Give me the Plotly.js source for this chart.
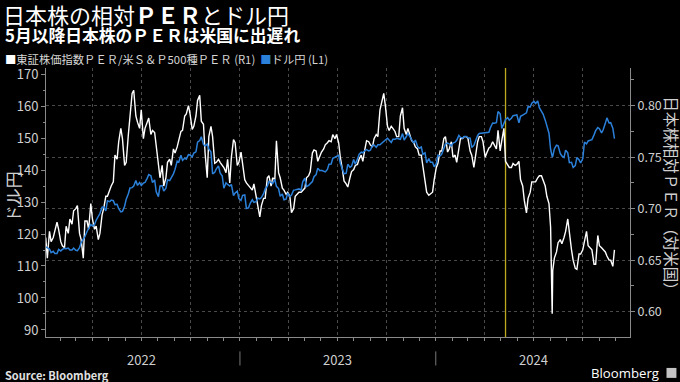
<!DOCTYPE html>
<html>
<head>
<meta charset="utf-8">
<script src="https://cdn.plot.ly/plotly-3.0.1.min.js"></script>
<style>html,body{margin:0;padding:0;background:#000;}#chart{width:680px;height:382px;}</style>
</head>
<body>
<div id="chart"></div>
<script>
const dates = [
'2022-01-04','2022-01-07','2022-01-11','2022-01-14','2022-01-18','2022-01-21','2022-01-25','2022-01-28',
'2022-02-01','2022-02-04','2022-02-08','2022-02-11','2022-02-15','2022-02-18','2022-02-22','2022-02-25',
'2022-03-01','2022-03-04','2022-03-08','2022-03-11','2022-03-15','2022-03-18','2022-03-22','2022-03-25','2022-03-29',
'2022-04-01','2022-04-05','2022-04-08','2022-04-12','2022-04-15','2022-04-19','2022-04-22','2022-04-26','2022-04-29',
'2022-05-03','2022-05-06','2022-05-10','2022-05-13','2022-05-17','2022-05-20','2022-05-24','2022-05-27','2022-05-31',
'2022-06-03','2022-06-07','2022-06-10','2022-06-14','2022-06-17','2022-06-21','2022-06-24','2022-06-28',
'2022-07-01','2022-07-05','2022-07-08','2022-07-12','2022-07-15','2022-07-19','2022-07-22','2022-07-26','2022-07-29',
'2022-08-02','2022-08-05','2022-08-09','2022-08-12','2022-08-16','2022-08-19','2022-08-23','2022-08-26','2022-08-30',
'2022-09-02','2022-09-06','2022-09-09','2022-09-13','2022-09-16','2022-09-20','2022-09-23','2022-09-27','2022-09-30',
'2022-10-04','2022-10-07','2022-10-11','2022-10-14','2022-10-18','2022-10-21','2022-10-25','2022-10-28',
'2022-11-01','2022-11-04','2022-11-08','2022-11-11','2022-11-15','2022-11-18','2022-11-22','2022-11-25','2022-11-29',
'2022-12-02','2022-12-06','2022-12-09','2022-12-13','2022-12-16','2022-12-20','2022-12-23','2022-12-27','2022-12-30',
'2023-01-03','2023-01-06','2023-01-10','2023-01-13','2023-01-17','2023-01-20','2023-01-24','2023-01-27','2023-01-31',
'2023-02-03','2023-02-07','2023-02-10','2023-02-14','2023-02-17','2023-02-21','2023-02-24','2023-02-28',
'2023-03-03','2023-03-07','2023-03-10','2023-03-14','2023-03-17','2023-03-21','2023-03-24','2023-03-28','2023-03-31',
'2023-04-04','2023-04-07','2023-04-11','2023-04-14','2023-04-18','2023-04-21','2023-04-25','2023-04-28',
'2023-05-02','2023-05-05','2023-05-09','2023-05-12','2023-05-16','2023-05-19','2023-05-23','2023-05-26','2023-05-30',
'2023-06-02','2023-06-06','2023-06-09','2023-06-13','2023-06-16','2023-06-20','2023-06-23','2023-06-27','2023-06-30',
'2023-07-04','2023-07-07','2023-07-11','2023-07-14','2023-07-18','2023-07-21','2023-07-25','2023-07-28',
'2023-08-01','2023-08-04','2023-08-08','2023-08-11','2023-08-15','2023-08-18','2023-08-22','2023-08-25','2023-08-29',
'2023-09-01','2023-09-05','2023-09-08','2023-09-12','2023-09-15','2023-09-19','2023-09-22','2023-09-26','2023-09-29',
'2023-10-03','2023-10-06','2023-10-10','2023-10-13','2023-10-17','2023-10-20','2023-10-24','2023-10-27','2023-10-31',
'2023-11-03','2023-11-07','2023-11-10','2023-11-14','2023-11-17','2023-11-21','2023-11-24','2023-11-28',
'2023-12-01','2023-12-05','2023-12-08','2023-12-12','2023-12-15','2023-12-19','2023-12-22','2023-12-26','2023-12-29',
'2024-01-02','2024-01-05','2024-01-09','2024-01-12','2024-01-16','2024-01-19','2024-01-23','2024-01-26','2024-01-30',
'2024-02-02','2024-02-06','2024-02-09','2024-02-13','2024-02-16','2024-02-20','2024-02-23','2024-02-27',
'2024-03-01','2024-03-05','2024-03-08','2024-03-12','2024-03-15','2024-03-19','2024-03-22','2024-03-26','2024-03-29',
'2024-04-02','2024-04-05','2024-04-09','2024-04-12','2024-04-16','2024-04-19','2024-04-23','2024-04-26','2024-04-30',
'2024-05-03','2024-05-07','2024-05-10','2024-05-14','2024-05-17','2024-05-21','2024-05-24','2024-05-28','2024-05-31',
'2024-06-04','2024-06-07','2024-06-11','2024-06-14','2024-06-18','2024-06-21','2024-06-25','2024-06-28',
'2024-07-02','2024-07-05','2024-07-09','2024-07-12','2024-07-16','2024-07-19','2024-07-23','2024-07-26','2024-07-30',
'2024-08-02','2024-08-05','2024-08-06','2024-08-09','2024-08-13','2024-08-16','2024-08-20','2024-08-23','2024-08-27','2024-08-30',
'2024-09-03','2024-09-06','2024-09-10','2024-09-13','2024-09-17','2024-09-20','2024-09-24','2024-09-27',
'2024-10-01','2024-10-04','2024-10-08','2024-10-11','2024-10-15','2024-10-18','2024-10-22','2024-10-25','2024-10-29',
'2024-11-01','2024-11-05','2024-11-08','2024-11-12','2024-11-15','2024-11-19','2024-11-22','2024-11-26','2024-11-29'
];

const perRatio = [
0.672,0.652,0.678,0.668,0.672,0.678,0.687,0.680,
0.668,0.664,0.662,0.683,0.676,0.690,0.685,0.698,
0.700,0.703,0.676,0.670,0.652,0.688,0.688,0.680,0.705,
0.690,0.680,0.683,0.670,0.676,0.694,0.700,0.712,0.712,
0.718,0.722,0.726,0.752,0.748,0.765,0.778,0.768,0.742,
0.745,0.772,0.793,0.812,0.815,0.790,0.784,0.778,
0.796,0.768,0.778,0.784,0.788,0.772,0.776,0.774,0.760,
0.740,0.730,0.742,0.722,0.730,0.745,0.748,0.742,0.758,
0.754,0.760,0.768,0.775,0.776,0.790,0.792,0.800,0.792,
0.777,0.780,0.790,0.805,0.810,0.785,0.782,0.754,
0.730,0.770,0.780,0.770,0.744,0.745,0.748,0.745,0.742,
0.740,0.735,0.748,0.725,0.750,0.767,0.764,0.742,0.745,
0.755,0.745,0.728,0.725,0.722,0.720,0.718,0.724,0.712,
0.700,0.692,0.703,0.710,0.710,0.730,0.732,0.722,
0.730,0.728,0.766,0.735,0.730,0.720,0.718,0.714,0.716,
0.712,0.696,0.700,0.712,0.714,0.716,0.716,0.718,
0.720,0.730,0.732,0.736,0.754,0.757,0.756,0.746,0.752,
0.755,0.758,0.762,0.764,0.766,0.765,0.772,0.768,0.772,
0.764,0.750,0.738,0.727,0.724,0.721,0.730,0.736,
0.738,0.742,0.743,0.748,0.752,0.746,0.758,0.766,0.765,
0.762,0.760,0.768,0.772,0.770,0.796,0.803,0.812,0.800,
0.780,0.776,0.780,0.778,0.775,0.770,0.770,0.790,0.798,
0.778,0.772,0.778,0.772,0.766,0.764,0.760,0.758,
0.752,0.752,0.740,0.728,0.716,0.713,0.714,0.716,0.728,
0.740,0.744,0.756,0.756,0.768,0.770,0.755,0.758,0.765,
0.750,0.752,0.745,0.760,0.768,0.768,0.770,0.770,
0.768,0.756,0.752,0.740,0.752,0.765,0.770,0.770,0.765,
0.750,0.754,0.759,0.760,0.765,0.762,0.758,0.776,0.756,
0.766,0.778,0.746,0.742,0.740,0.740,0.744,0.742,0.743,
0.746,0.728,0.722,0.708,0.696,0.710,0.716,0.726,
0.726,0.726,0.730,0.732,0.732,0.728,0.722,0.712,0.705,
0.682,0.598,0.640,0.652,0.658,0.667,0.670,0.666,0.672,0.678,
0.690,0.674,0.660,0.650,0.642,0.641,0.656,0.656,
0.660,0.668,0.678,0.664,0.662,0.660,0.646,0.646,0.674,
0.664,0.662,0.660,0.658,0.654,0.650,0.650,0.644,0.660
];

const usdJpy = [
116.0,115.6,115.3,114.2,114.6,113.9,113.9,115.2,
114.7,115.2,115.5,115.4,115.6,115.0,115.0,115.6,
114.9,114.8,115.7,117.3,118.3,119.2,120.8,122.0,123.0,
122.5,123.0,124.3,125.4,126.4,128.4,128.5,127.2,130.4,
130.1,130.6,130.4,129.2,129.3,127.9,126.9,127.1,128.7,
130.9,132.6,134.4,134.5,135.0,136.7,135.2,136.1,
135.2,135.9,136.1,137.4,138.6,138.2,136.1,136.9,133.2,
131.7,135.0,135.1,133.4,134.3,136.9,136.7,137.5,138.8,
140.2,142.8,142.5,144.6,143.0,143.7,143.4,144.8,144.7,
144.1,145.3,145.7,148.7,149.2,150.4,148.0,147.5,
148.1,146.6,145.6,138.8,139.3,140.4,141.3,139.1,138.1,
134.3,136.0,135.5,135.0,135.5,132.0,132.8,133.4,131.1,
130.5,132.1,132.2,128.0,128.2,129.6,130.7,129.9,130.1,
131.2,131.0,131.4,132.6,134.1,134.9,136.4,136.2,
135.8,137.1,134.9,134.2,131.8,132.5,130.7,130.9,132.8,
131.7,132.2,133.7,133.8,134.1,134.1,133.7,136.3,
137.5,134.8,135.2,135.7,136.4,137.9,138.6,140.6,139.8,
139.9,139.6,139.4,140.2,141.8,141.9,143.7,144.0,144.3,
144.6,142.1,140.3,138.8,139.0,141.8,140.9,141.2,
143.3,141.8,143.4,144.9,145.6,145.4,146.1,146.4,146.0,
146.2,147.7,147.8,147.1,147.9,147.9,148.4,149.1,149.4,
149.9,149.3,148.6,149.6,149.6,149.9,149.7,149.6,151.4,
149.4,150.4,151.5,150.4,149.6,148.4,149.4,147.4,
146.8,147.2,144.9,145.4,142.2,143.6,142.4,142.4,141.0,
142.0,144.6,144.4,144.9,147.2,148.1,148.4,148.2,147.6,
148.4,148.7,149.3,150.8,150.2,150.0,150.5,150.5,
150.1,150.0,147.1,147.7,149.0,150.8,151.4,151.5,151.4,
151.6,151.6,151.8,153.3,154.7,154.6,154.8,158.3,157.6,
153.0,154.7,155.8,156.4,155.6,156.2,157.0,157.1,157.3,
154.8,156.8,157.2,157.4,157.9,159.8,159.7,160.9,
161.5,160.8,161.6,159.5,158.3,157.5,155.6,153.8,151.5,
146.5,144.2,144.3,146.6,147.8,147.6,145.2,144.4,143.9,146.2,
145.4,142.3,142.4,140.8,141.4,143.9,143.2,142.2,
143.6,148.7,148.2,149.1,149.2,149.5,151.0,152.3,153.3,
152.9,151.6,152.6,154.6,156.3,154.7,154.8,153.1,149.8
];

const yearLabels = ['2022', '2023', '2024'];
const yearMids = ['2022-07-02', '2023-07-02', '2024-07-02'];
const yearBoundaries = ['2023-01-01', '2024-01-01'];
const markerDate = '2024-05-10';
const xRange = ['2022-01-04 12:00', '2024-12-28'];

const FONT = '"Noto Sans CJK JP", "Noto Sans", sans-serif';
const GRID = '#4a4a4a';
const AXIS = '#8a8a8a';
const TXT = '#cfcfcf';
const BLUE = '#2b80da';

const traces = [
  { x: dates, y: perRatio, type: 'scatter', mode: 'lines', xaxis: 'x', yaxis: 'y',
    line: { color: '#ffffff', width: 1.4 }, name: 'PER', showlegend: false, hoverinfo: 'skip' },
  { x: dates, y: usdJpy, type: 'scatter', mode: 'lines', xaxis: 'x', yaxis: 'y2',
    line: { color: BLUE, width: 1.5 }, name: 'USDJPY', showlegend: false, hoverinfo: 'skip' }
];

const shapes = yearBoundaries.map(d => ({
  type: 'line', xref: 'x', yref: 'paper', x0: d, x1: d, y0: -0.0535, y1: -0.106,
  line: { color: '#777', width: 1 }
}));
shapes.push({ type: 'line', xref: 'x', yref: 'paper', x0: markerDate, x1: markerDate, y0: 0, y1: 1,
  layer: 'below', line: { color: 'rgb(190,170,30)', width: 1.3 } });
shapes.push({ type: 'rect', xref: 'paper', yref: 'paper', x0: 1.0625, x1: 1.0795, y0: -0.115, y1: -0.152,
  fillcolor: '#c4c4c4', line: { width: 0 } });

const annotations = yearLabels.map((t, i) => ({
  text: t, xref: 'x', yref: 'paper', x: yearMids[i], y: -0.0818, xanchor: 'center', yanchor: 'middle',
  showarrow: false, font: { size: 13, color: TXT, family: FONT }
}));
annotations.push(
  { text: '<b>5月以降日本株のＰＥＲは米国に出遅れ</b>', xref: 'paper', yref: 'paper',
    x: -0.0736, y: 1.122, xanchor: 'left', yanchor: 'middle', showarrow: false,
    font: { size: 16.8, color: '#ffffff', family: FONT } },
  { text: '<span style="color:#ffffff">■</span>東証株価指数ＰＥＲ/米Ｓ＆Ｐ500種ＰＥＲ (R1)  <span style="color:' + BLUE + '">■</span>ドル円 (L1)',
    xref: 'paper', yref: 'paper', x: -0.0736, y: 1.0335, xanchor: 'left', yanchor: 'middle', showarrow: false,
    font: { size: 11.3, color: '#d6d6d6', family: FONT } },
  { text: 'ドル円', xref: 'paper', yref: 'paper', x: -0.0582, y: 0.52, textangle: -90,
    xanchor: 'center', yanchor: 'middle', showarrow: false, font: { size: 17, color: TXT, family: FONT } },
  { text: '日本株相対ＰＥＲ（対米国）', xref: 'paper', yref: 'paper', x: 1.0715, y: 0.52, textangle: 90,
    xanchor: 'center', yanchor: 'middle', showarrow: false, font: { size: 15.5, color: TXT, family: FONT } },
  { text: '<b>Source: Bloomberg</b>', xref: 'paper', yref: 'paper', x: -0.0736, y: -0.1413,
    xanchor: 'left', yanchor: 'middle', showarrow: false, font: { size: 11, color: '#e0e0e0', family: FONT } },
  { text: 'Bloomberg', xref: 'paper', yref: 'paper', x: 1.0525, y: -0.133,
    xanchor: 'right', yanchor: 'middle', showarrow: false, font: { size: 13.2, color: '#ffffff', family: '"Open Sans", sans-serif' } }
);

const layout = {
  width: 680, height: 382,
  paper_bgcolor: '#000', plot_bgcolor: '#000',
  margin: { l: 46, r: 50, t: 68, b: 45, pad: 0 },
  font: { family: FONT, color: TXT },
  showlegend: false,
  title: { text: '日本株の相対<b>ＰＥＲ</b>とドル円', x: 3 / 680, xanchor: 'left', xref: 'container',
    y: 1 - 16 / 382, yanchor: 'middle', yref: 'container', font: { size: 22, color: '#ffffff', family: FONT } },
  xaxis: {
    type: 'date', range: xRange, showgrid: true, gridcolor: GRID, griddash: 'dot', gridwidth: 1,
    dtick: 'M3', tick0: '2022-01-01', showticklabels: false,
    ticks: 'outside', ticklen: 3, tickcolor: AXIS,
    minor: { dtick: 'M1', tick0: '2022-01-01', ticks: 'outside', ticklen: 3, tickcolor: AXIS, showgrid: false },
    showline: true, linecolor: AXIS, zeroline: false, fixedrange: true
  },
  yaxis: {
    side: 'right', range: [0.5754, 0.8366], dtick: 0.05, tick0: 0, tickformat: '.2f',
    showgrid: true, gridcolor: GRID, griddash: 'dot', zeroline: false,
    showline: true, linecolor: AXIS, ticks: 'outside', ticklen: 4, tickcolor: AXIS,
    minor: { dtick: 0.025, tick0: 0, ticks: 'outside', ticklen: 3, tickcolor: AXIS, showgrid: false },
    tickfont: { size: 12.5, color: TXT, family: FONT }
  },
  yaxis2: {
    side: 'left', overlaying: 'y', range: [87.8, 171.9], dtick: 10, tick0: 0,
    showgrid: false, zeroline: false, showline: true, linecolor: AXIS,
    ticks: 'outside', ticklen: 4, tickcolor: AXIS,
    minor: { dtick: 5, tick0: 0, ticks: 'outside', ticklen: 2, tickcolor: AXIS, showgrid: false },
    tickfont: { size: 13, color: TXT, family: FONT }
  },
  shapes: shapes,
  annotations: annotations
};

Plotly.newPlot('chart', traces, layout, { staticPlot: true, displayModeBar: false });
</script>
</body>
</html>
